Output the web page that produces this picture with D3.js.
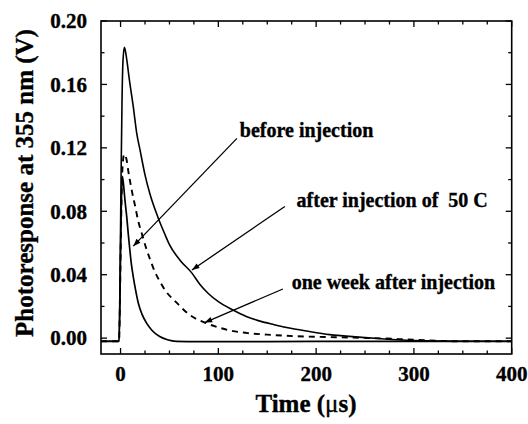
<!DOCTYPE html>
<html>
<head>
<meta charset="utf-8">
<script src="https://cdn.jsdelivr.net/npm/d3@7"></script>
<style>
html,body{margin:0;padding:0;background:#fff;}
svg{display:block;}
text{font-family:"Liberation Serif","Times New Roman",serif;font-weight:bold;fill:#000;stroke:#000;stroke-width:0.35px;}
</style>
</head>
<body>
<svg id="chart" width="528" height="424"></svg>
<script>
// ---- data (time in microseconds, photoresponse in V) ----
const beforeT = [-20, -1.5, -0.5, 0.5, 1.8, 3, 4.5, 6.3, 8, 9.5, 11, 13, 15.5, 18.2, 22, 26.8, 32, 40, 48, 57, 80, 150, 250, 350, 400];
const beforeV = [-0.002, -0.002, 0.03, 0.075, 0.102, 0.097, 0.087, 0.0766, 0.065, 0.0556, 0.047, 0.0387, 0.030, 0.022, 0.015, 0.0093, 0.005, 0.001, -0.001, -0.002, -0.0022, -0.0022, -0.002, -0.002, -0.002];

const afterT = [-20, -1.5, -0.5, 0.5, 1.5, 2.5, 3.9, 5, 6.5, 9, 13, 16.6, 19.9, 25, 30, 38.7, 45, 50, 61, 73, 81, 90, 100, 115, 128, 140, 157, 174, 190, 214, 240, 270, 300, 350, 400];
const afterV = [-0.002, -0.002, 0.04, 0.10, 0.15, 0.175, 0.1834, 0.181, 0.175, 0.163, 0.146, 0.129, 0.1187, 0.103, 0.091, 0.0755, 0.066, 0.059, 0.049, 0.041, 0.034, 0.028, 0.023, 0.0177, 0.0138, 0.0112, 0.0085, 0.0062, 0.0045, 0.0022, 0.0008, -0.0005, -0.0015, -0.002, -0.002];

const weekT = [-20, -1.5, -0.5, 0.5, 1.5, 2.5, 3.7, 5, 6.3, 8, 9.7, 11.5, 15, 18, 21.7, 25, 30, 35, 40.4, 47, 55.5, 61, 71, 86, 100, 112, 130, 150, 180, 220, 260, 300, 350, 400];
const weekV = [-0.002, -0.002, 0.03, 0.07, 0.10, 0.112, 0.116, 0.115, 0.112, 0.105, 0.099, 0.093, 0.083, 0.074, 0.066, 0.059, 0.050, 0.042, 0.0355, 0.029, 0.0235, 0.020, 0.0145, 0.0098, 0.0068, 0.0048, 0.0032, 0.0022, 0.0012, 0.0006, 0.0, -0.001, -0.002, -0.002];

const xTicks = [0, 100, 200, 300, 400];
const yTicks = [0.00, 0.04, 0.08, 0.12, 0.16, 0.20];

// annotations: label, text anchor point (data), arrow tail (data), arrow tip (data)
const labels = ["before injection", "after injection of  50 C", "one week after injection"];
const labelAt = [[122, 0.1313], [180, 0.0871], [175, 0.0354]];
const arrowFrom = [[119, 0.126], [168, 0.083], [166, 0.031]];
const arrowTo = [[13, 0.058], [73, 0.043], [86, 0.0098]];

// ---- layout ----
const svg = d3.select("#chart");
const L = 101, R = 511.7, T = 21, B = 354;
const x = d3.scaleLinear().domain([-20, 400]).range([L, R]);
const y = d3.scaleLinear().domain([-0.01, 0.20]).range([B, T]);

const toPts = (ts, vs) => ts.map((t, i) => [t, vs[i]]);
const line = d3.line().x(d => x(d[0])).y(d => y(d[1])).curve(d3.curveMonotoneX);

const plot = svg.append("g");
plot.append("path").attr("d", line(toPts(beforeT, beforeV)))
  .attr("fill", "none").attr("stroke", "#000").attr("stroke-width", 1.7);
plot.append("path").attr("d", line(toPts(afterT, afterV)))
  .attr("fill", "none").attr("stroke", "#000").attr("stroke-width", 1.6);
plot.append("path").attr("d", line(toPts(weekT, weekV)))
  .attr("fill", "none").attr("stroke", "#000").attr("stroke-width", 1.9)
  .attr("stroke-dasharray", "6,5");

// frame
svg.append("rect").attr("x", L).attr("y", T).attr("width", R - L).attr("height", B - T)
  .attr("fill", "none").attr("stroke", "#000").attr("stroke-width", 1.6);

// ticks (inward, all four sides)
const xMinor = d3.range(0, 401, 25).filter(v => xTicks.indexOf(v) < 0);
const yMinor = d3.range(0, 0.2001, 0.02).map(v => +v.toFixed(2)).filter(v => yTicks.indexOf(v) < 0);
const major = 6, minor = 3.5;
const tg = svg.append("g").attr("stroke", "#000").attr("stroke-width", 1.3);
xTicks.concat(xMinor).forEach(v => {
  const len = xTicks.indexOf(v) >= 0 ? major : minor;
  tg.append("line").attr("x1", x(v)).attr("x2", x(v)).attr("y1", B).attr("y2", B - len);
  tg.append("line").attr("x1", x(v)).attr("x2", x(v)).attr("y1", T).attr("y2", T + len);
});
yTicks.concat(yMinor).forEach(v => {
  const len = yTicks.indexOf(v) >= 0 ? major : minor;
  tg.append("line").attr("y1", y(v)).attr("y2", y(v)).attr("x1", L).attr("x2", L + len);
  tg.append("line").attr("y1", y(v)).attr("y2", y(v)).attr("x1", R).attr("x2", R - len);
});

// tick labels
svg.append("g").selectAll("text").data(xTicks).join("text")
  .attr("x", d => x(d)).attr("y", 381).attr("text-anchor", "middle")
  .attr("font-size", 21).text(d => d3.format("d")(d));
svg.append("g").selectAll("text").data(yTicks).join("text")
  .attr("x", 87).attr("y", d => y(d)).attr("dy", "0.35em").attr("text-anchor", "end")
  .attr("font-size", 21).text(d => d3.format(".2f")(d));

// axis titles
svg.append("text").attr("x", 306).attr("y", 412).attr("text-anchor", "middle")
  .attr("font-size", 25).html('Time (<tspan style="font-weight:normal">μ</tspan>s)');
svg.append("text").attr("transform", "translate(33,183) rotate(-90)")
  .attr("text-anchor", "middle").attr("font-size", 25).text("Photoresponse at 355 nm (V)");

// annotations
const ag = svg.append("g");
labels.forEach((s, i) => {
  ag.append("text").attr("x", x(labelAt[i][0])).attr("y", y(labelAt[i][1])).attr("dy", "0.35em")
    .attr("font-size", 20).attr("xml:space", "preserve").style("white-space", "pre").text(s);
  const x1 = x(arrowFrom[i][0]), y1 = y(arrowFrom[i][1]);
  const x2 = x(arrowTo[i][0]), y2 = y(arrowTo[i][1]);
  ag.append("line").attr("x1", x1).attr("y1", y1).attr("x2", x2).attr("y2", y2)
    .attr("stroke", "#000").attr("stroke-width", 1.3);
  const a = Math.atan2(y2 - y1, x2 - x1), h = 8, w = 0.35;
  const p = [[x2, y2], [x2 - h * Math.cos(a - w), y2 - h * Math.sin(a - w)],
             [x2 - h * Math.cos(a + w), y2 - h * Math.sin(a + w)]];
  ag.append("path").attr("d", "M" + p.map(q => q.join(",")).join("L") + "Z").attr("fill", "#000");
});
</script>
</body>
</html>
